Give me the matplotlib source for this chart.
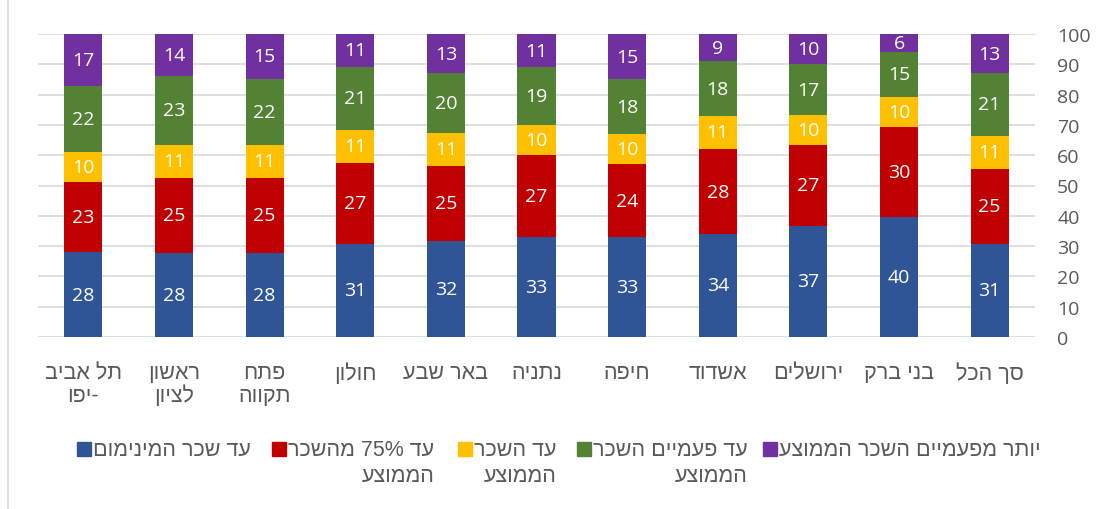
import matplotlib
matplotlib.use("Agg")
import matplotlib.pyplot as plt
import numpy as np
from matplotlib.patches import Rectangle
from matplotlib.lines import Line2D

# data, in logical (right-to-left) order: first item is the right-most bar
cities = ["סך הכל", "בני ברק", "ירושלים", "אשדוד", "חיפה", "נתניה",
          "באר שבע", "חולון", "פתח\nתקווה", "ראשון\nלציון", "תל אביב\n-יפו"]
min_wage = [31, 40, 37, 34, 33, 33, 32, 31, 28, 28, 28]
to_75 = [25, 30, 27, 28, 24, 27, 25, 27, 25, 25, 23]
to_avg = [11, 10, 10, 11, 10, 10, 11, 11, 11, 11, 10]
to_double = [21, 15, 17, 18, 18, 19, 20, 21, 22, 23, 22]
above_double = [13, 6, 10, 9, 15, 11, 13, 11, 15, 14, 17]

series_names = ["עד שכר המינימום", "עד 75% מהשכר\nהממוצע", "עד השכר\nהממוצע",
                "עד פעמיים השכר\nהממוצע", "יותר מפעמיים השכר הממוצע"]
colors = ["#2F5597", "#C00000", "#FFC000", "#548235", "#7030A0"]
yticks = [0, 10, 20, 30, 40, 50, 60, 70, 80, 90, 100]

FONT = ["Liberation Sans", "DejaVu Sans"]
NUMFONT = ["Open Sans", "DejaVu Sans"]
GREY = "#595959"
W, H = 1107, 510


def heb(s):
    # matplotlib has no bidi support: put hebrew text in visual order
    lines = []
    for line in s.split("\n"):
        out = []
        for w in reversed(line.split(" ")):
            if any("\u0590" <= c <= "\u05ff" for c in w):
                out.append(w[::-1])
            else:
                out.append(w)
        lines.append(" ".join(out))
    return "\n".join(lines)


plt.rcParams["font.family"] = FONT

fig = plt.figure(figsize=(W / 100, H / 100), dpi=100)
ax = fig.add_axes([38 / W, 1 - 338 / H, 997 / W, 303 / H])

series = np.array([min_wage, to_75, to_avg, to_double, above_double], dtype=float)
shares = series / series.sum(axis=0) * 100  # 100% stacked
x = np.arange(len(cities))
bottom = np.zeros(len(cities))
for vals, raw, col in zip(shares, series, colors):
    bars = ax.bar(x, vals, bottom=bottom, width=0.42, color=col, zorder=3)
    ax.bar_label(bars, labels=[f"{v:.0f}" for v in raw], label_type="center",
                 color="white", fontsize=14, family=NUMFONT)
    bottom += vals

ax.set_xlim(10.5, -0.5)
ax.set_ylim(0, 100)
ax.set_xticks(x)
ax.set_xticklabels([heb(c) for c in cities], fontsize=15.5, color=GREY, linespacing=1.1)
ax.yaxis.tick_right()
ax.set_yticks(yticks)
ax.set_yticklabels([str(t) for t in yticks], fontsize=14, color=GREY, family=NUMFONT)
ax.tick_params(axis="x", length=0, pad=18)
ax.tick_params(axis="y", length=0, pad=16)
ax.grid(axis="y", color="#D9D9D9", linewidth=1.2, zorder=0)
for s in ax.spines.values():
    s.set_visible(False)

# legend, laid out like the excel one: marker left of each label
marker_x = [77, 272, 458, 577, 763]
for mx, col, name in zip(marker_x, colors, series_names):
    fig.add_artist(Rectangle((mx / W, 1 - 457 / H), 14 / W, 14 / H,
                             transform=fig.transFigure, color=col))
    fig.text((mx + 16) / W, 1 - 440 / H, heb(name), ha="left", va="top",
             multialignment="right", fontsize=15.5, color=GREY, linespacing=1.3)

# chart border remnant on the left
fig.add_artist(Line2D([8 / W, 8 / W], [0, 1], transform=fig.transFigure,
                      color="#D9D9D9", linewidth=1.2))

fig.savefig("out.png", dpi=100)
